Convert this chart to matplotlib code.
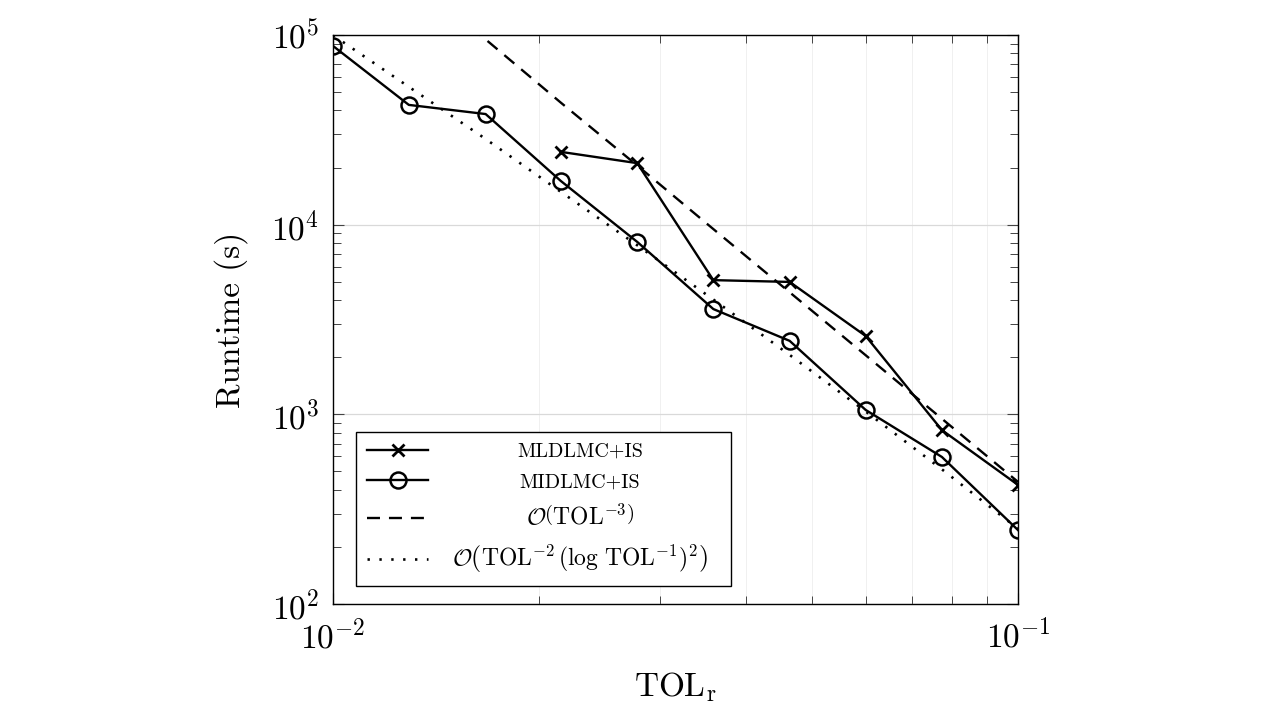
import numpy as np
import matplotlib
matplotlib.use("Agg")
from matplotlib import pyplot as plt
from matplotlib import ticker

plt.rcParams["font.family"] = "serif"
plt.rcParams["font.serif"] = ["cmr10", "DejaVu Serif"]
plt.rcParams["mathtext.fontset"] = "cm"
plt.rcParams["axes.formatter.use_mathtext"] = True

# TOL_r values (10 levels between 1e-2 and 1e-1)
tol = [0.01, 0.0129, 0.0167, 0.0215, 0.0278, 0.0359, 0.0464, 0.0599, 0.0774, 0.1]
# MIDLMC+IS runtimes, all levels
midlmc = [87500, 42800, 38300, 17000, 8110, 3590, 2440, 1055, 596, 245]
# MLDLMC+IS runtimes, only from the 4th level on
mldlmc_tol = [0.0215, 0.0278, 0.0359, 0.0464, 0.0599, 0.0774, 0.1]
mldlmc = [24200, 21100, 5100, 4990, 2590, 826, 424]
# reference rates
ref_tol3 = [440000, 205000, 94800, 44000, 20500, 9480, 4400, 2050, 948, 440]
ref_tol2log = [99700, 53300, 28300, 14900, 7790, 4030, 2057, 1036, 513, 249]

labels = ["MLDLMC+IS", "MIDLMC+IS",
          r"$\mathcal{O}\left(\mathrm{TOL}^{-3}\right)$",
          r"$\mathcal{O}\left(\mathrm{TOL}^{-2}\,(\log\,\mathrm{TOL}^{-1})^2\right)$"]

fig = plt.figure(figsize=(12.8, 7.2), dpi=100)
ax = fig.add_axes([0.2602, 0.1611, 0.5352, 0.7903])

ax.plot(mldlmc_tol, mldlmc, color="black", lw=1.7, marker="x", ms=8.5, mew=2,
        label=labels[0], zorder=4)
ax.plot(tol, midlmc, color="black", lw=1.7, marker="o", ms=11.5, mew=1.8,
        mfc="none", label=labels[1], zorder=4)
ax.plot(tol, ref_tol3, color="black", lw=1.7, linestyle=(0, (5.5, 3.8)),
        label=labels[2], zorder=3)
ax.plot(tol, ref_tol2log, color="black", lw=1.9, linestyle=(0, (0.9, 3.6)),
        label=labels[3], zorder=3)

ax.set_xscale("log")
ax.set_yscale("log")
ax.set_xlim(0.01, 0.1)
ax.set_ylim(1e2, 1e5)
ax.xaxis.set_minor_formatter(ticker.NullFormatter())
ax.yaxis.set_minor_formatter(ticker.NullFormatter())

ax.yaxis.grid(which="major", color="#d9d9d9", lw=0.9)
ax.xaxis.grid(which="minor", color="#f0f0f0", lw=0.7)
ax.set_axisbelow(True)

ax.tick_params(which="both", direction="in", top=True, right=True,
               labelsize=24, color="#444444")
ax.tick_params(which="major", length=8, width=0.8, pad=10)
ax.tick_params(which="minor", length=5.5, width=0.7)
for s in ax.spines.values():
    s.set_linewidth(1.0)

ax.set_xlabel(r"TOL$_\mathrm{r}$", fontsize=24, labelpad=12)
ax.set_ylabel("Runtime (s)", fontsize=24, labelpad=17)

leg = ax.legend(loc="lower left", bbox_to_anchor=(0.034, 0.032, 0.547, 0.27),
                mode="expand", borderaxespad=0, fontsize=14.5,
                handlelength=3.0, handletextpad=0.5, labelspacing=0.62,
                borderpad=0.55, fancybox=False, framealpha=1,
                edgecolor="black")
leg.get_frame().set_linewidth(1.0)
texts = leg.get_texts()
for t in texts[2:]:
    t.set_fontsize(17)

# pgfplots centres the legend text in the box; shift each entry
fig.canvas.draw()
boxes = [t.get_window_extent() for t in texts]
col_left = min(b.x0 for b in boxes)
right = leg.get_frame().get_window_extent().x1 - 9
centre = (col_left + right) / 2
for t, b in zip(texts, boxes):
    t.set_x(centre - (b.x0 + b.width / 2))

fig.savefig("out.png", dpi=100)
